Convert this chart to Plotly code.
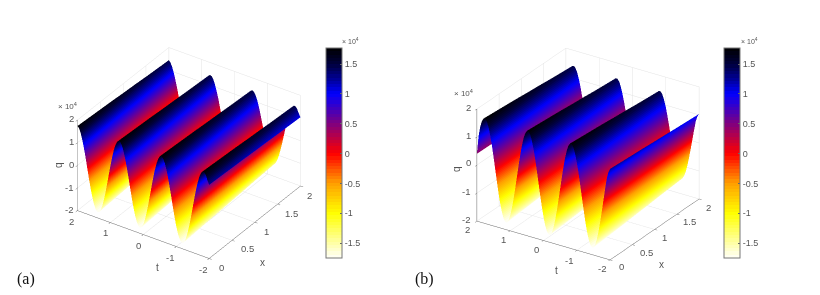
import math
import numpy as np
import plotly.graph_objects as go

W, H = 820, 295
t_values = [round(-2 + 0.05 * i, 2) for i in range(81)]
x_values = [0, 0.25, 0.5, 0.75, 1, 1.25, 1.5, 1.75, 2]
amp_along_x = [1.0, 0.98, 0.96, 0.94, 0.915, 0.895, 0.87, 0.85, 0.83]

profile_a = [1.25, 1.41, 1.62, 1.73, 1.74, 1.65, 1.45, 1.17, .82, .43, 0, -.43, -.82, -1.17, -1.45, -1.65, -1.74, -1.73, -1.62, -1.41,
             -1.11, -.75, -.34, .09, .51, .90, 1.24, 1.50, 1.67, 1.75, 1.72, 1.58, 1.35, 1.04, .67, .26, -.17, -.59, -.97, -1.30,
             -1.54, -1.70, -1.75, -1.70, -1.54, -1.30, -.97, -.59, -.17, .26, .67, 1.04, 1.35, 1.58, 1.72, 1.75, 1.67, 1.50, 1.24, .90,
             .51, .09, -.34, -.75, -1.11, -1.41, -1.62, -1.73, -1.74, -1.65, -1.45, -1.17, -.82, -.43, 0, .43, .82, 1.17, 1.45, 1.65, 1.74]
profile_b = [1.25, 1.12, .88, .49, .07, -.35, -.75, -1.11, -1.40, -1.61, -1.73, -1.74, -1.66, -1.47, -1.20, -.86, -.47, -.05, .37, .77,
             1.13, 1.41, 1.62, 1.73, 1.74, 1.65, 1.46, 1.19, .84, .45, .03, -.39, -.79, -1.14, -1.43, -1.63, -1.73, -1.74, -1.64, -1.45,
             -1.17, -.82, -.43, -.01, .41, .81, 1.16, 1.44, 1.64, 1.74, 1.74, 1.63, 1.44, 1.16, .81, .41, -.01, -.43, -.83, -1.17,
             -1.45, -1.64, -1.74, -1.73, -1.63, -1.42, -1.14, -.79, -.39, .03, .45, .85, 1.19, 1.46, 1.65, 1.74, 1.73, 1.62, 1.41, 1.05, .40]

cbar_ticks = [-1.5, -1, -0.5, 0, 0.5, 1, 1.5]
cbar_labels = ["-1.5", "-1", "-0.5", "0", "0.5", "1", "1.5"]
t_tick_labels = ["2", "1", "0", "-1", "-2"]
x_tick_labels = ["0", "0.5", "1", "1.5", "2"]
q_tick_labels = ["2", "1", "0", "-1", "-2"]
CMIN, CMAX = -1.75, 1.77

anchors_v = [-1.75, -1.0, -0.5, 0.0, 0.5, 1.0, 1.25, 1.5, 1.77]
anchors_c = [(255, 255, 250), (255, 255, 0), (255, 160, 0), (255, 0, 0), (128, 0, 128), (0, 0, 255), (0, 0, 150), (0, 0, 60), (0, 0, 0)]
N = 64
scale = []
for k in range(N):
    v = CMIN + (CMAX - CMIN) * (k + 0.5) / N
    c = [int(np.interp(v, anchors_v, [a[j] for a in anchors_c])) for j in range(3)]
    col = f"rgb({c[0]},{c[1]},{c[2]})"
    scale += [[k / N, col], [(k + 1) / N, col]]

TXT = "#555555"
FONT = "Liberation Sans, Arial, sans-serif"
ZOOM = 0.71

def px_dom(cx, cy, half):
    return dict(x=[(cx - half) / W, (cx + half) / W], y=[1 - (cy + half) / H, 1 - (cy - half) / H])

def camera(alpha_deg, elev_deg, r):
    a, e = math.radians(alpha_deg), math.radians(elev_deg)
    return dict(eye=dict(x=-math.sin(a) * math.cos(e) * r, y=-math.cos(a) * math.cos(e) * r, z=math.sin(e) * r),
                up=dict(x=0, y=0, z=1), center=dict(x=0, y=0, z=0), projection=dict(type="orthographic"))

def axis(rng, dtick):
    return dict(title=dict(text=""), range=rng, dtick=dtick, showticklabels=False,
                showbackground=False, gridcolor="#e3e3e3", gridwidth=1,
                zeroline=False, showline=True, linecolor="#666666", linewidth=1, ticks="outside", ticklen=3,
                tickcolor="#666666", showspikes=False, mirror=False)

def scene(cx, cy, half, alpha, elev, r, zasp):
    return dict(domain=px_dom(cx, cy, half), camera=camera(alpha, elev, r),
                aspectmode="manual", aspectratio=dict(x=1.64 * ZOOM, y=1.6 * ZOOM, z=zasp * ZOOM),
                xaxis=axis([0, 2], 0.5), yaxis=axis([-2, 2], 1), zaxis=axis([-2, 2], 1))

def surface(profile, sc, cbx):
    z = [[p * a for a in amp_along_x] for p in profile]
    return go.Surface(
        x=x_values, y=t_values, z=z, scene=sc, cmin=CMIN, cmax=CMAX, colorscale=scale,
        lighting=dict(ambient=1, diffuse=0, specular=0, roughness=1, fresnel=0),
        hoverinfo="skip",
        colorbar=dict(x=cbx / W, xanchor="left", xpad=0, ypad=0, y=1 - 153 / H, yanchor="middle", thicknessmode="pixels", thickness=16,
                      lenmode="pixels", len=210, tickvals=cbar_ticks, ticktext=cbar_labels, ticks="inside", ticklen=2,
                      tickcolor="#666666", outlinecolor="#777777", outlinewidth=1,
                      tickfont=dict(size=9, color=TXT, family=FONT)))

fig = go.Figure([surface(profile_a, "scene", 326), surface(profile_b, "scene2", 724)])
fig.update_layout(width=W, height=H, margin=dict(l=0, r=0, t=0, b=0), paper_bgcolor="white", showlegend=False,
                  scene=scene(189, 153, 140, 55.9, 32.5, 2.0, 1.08),
                  scene2=scene(588, 153.5, 140, 56.9, 26.5, 2.0, 1.26))

def note(x, y, text, size, color=TXT, family=FONT, angle=0):
    fig.add_annotation(x=x / W, y=1 - y / H, xref="paper", yref="paper", text=text, showarrow=False, textangle=angle,
                       xanchor="center", yanchor="middle", font=dict(size=size, color=color, family=family))

# tick-label spots
t_pos_a = [(71, 221), (105, 232), (138, 245), (170, 257), (203, 269)]
x_pos_a = [(221, 267), (247, 248), (266, 231), (291, 213), (309, 195)]
q_pos_a = [(71, 118), (71, 141), (71, 164), (69, 187), (69, 209)]
t_pos_b = [(468, 229), (503, 239), (536, 249), (569, 260), (602, 268)]
x_pos_b = [(621, 266), (646, 252), (664, 237), (689, 221), (708, 207)]
q_pos_b = [(469, 107), (469, 135), (469, 163), (466, 191), (466, 219)]
for labels, spots in [(t_tick_labels, t_pos_a), (x_tick_labels, x_pos_a), (q_tick_labels, q_pos_a),
                      (t_tick_labels, t_pos_b), (x_tick_labels, x_pos_b), (q_tick_labels, q_pos_b)]:
    for lab, (px, py) in zip(labels, spots):
        note(px, py, lab, 9.5)

note(67, 106, "× 10<sup>4</sup>", 8)
note(464, 93, "× 10<sup>4</sup>", 8)
note(350, 41, "× 10<sup>4</sup>", 7)
note(749, 41, "× 10<sup>4</sup>", 7)
note(58, 165, "q", 10, angle=-90)
note(157, 267, "t", 10)
note(262, 262, "x", 10)
note(456, 169, "q", 10, angle=-90)
note(556, 270, "t", 10)
note(661, 264, "x", 10)
note(26, 279, "(a)", 16, "#111111", "Liberation Serif, Times New Roman, serif")
note(424, 279, "(b)", 16, "#111111", "Liberation Serif, Times New Roman, serif")

fig.write_html("out.html", config=dict(displayModeBar=False),
               post_script="document.body.style.margin='0';document.body.style.overflow='hidden';")
